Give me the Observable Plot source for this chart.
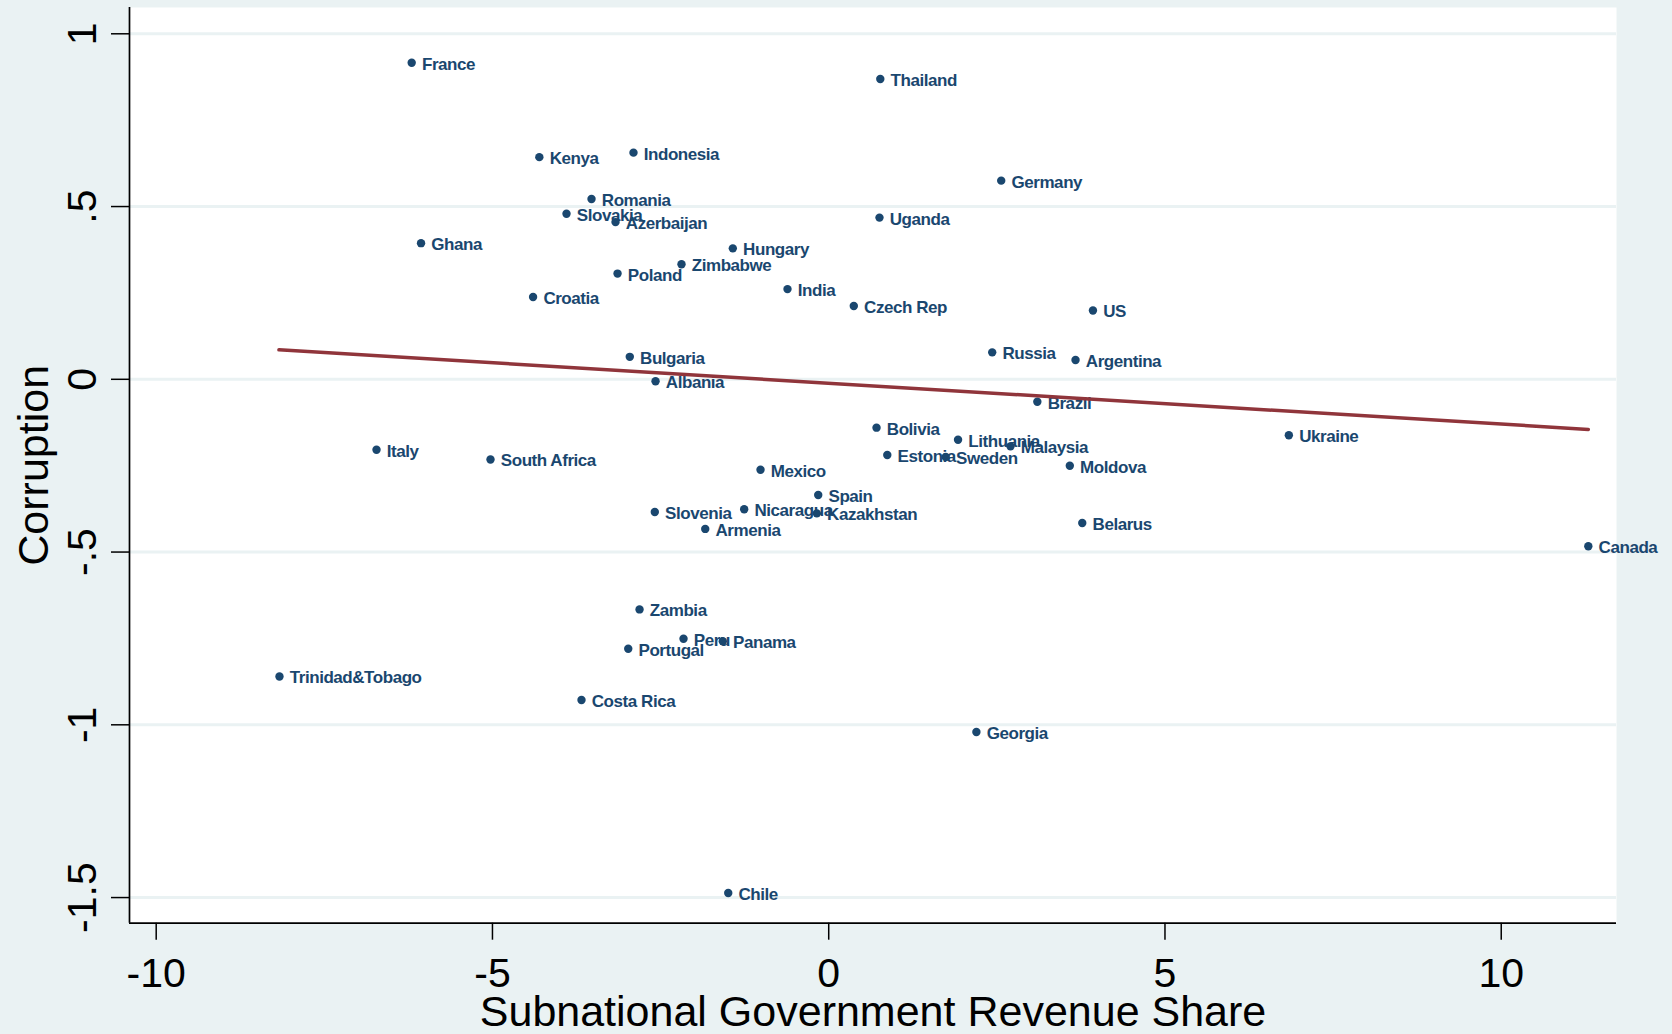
<!DOCTYPE html>
<html>
<head>
<meta charset="utf-8">
<script src="https://cdn.jsdelivr.net/npm/d3@7"></script>
<script src="https://cdn.jsdelivr.net/npm/@observablehq/plot@0.6"></script>
<style>
  html, body { margin: 0; padding: 0; background: #EAF2F3; overflow: hidden; }
  #chart svg { display: block; }
</style>
</head>
<body>
<div id="chart"></div>
<script>
// ---- Data ----
const countries = ["France","Thailand","Kenya","Indonesia","Germany","Romania","Slovakia","Azerbaijan","Uganda","Ghana",
  "Hungary","Zimbabwe","Poland","India","Croatia","Czech Rep","US","Russia","Argentina","Bulgaria",
  "Albania","Brazil","Bolivia","Ukraine","Lithuania","Malaysia","Estonia","Sweden","Moldova","Mexico",
  "Italy","South Africa","Spain","Nicaragua","Kazakhstan","Slovenia","Armenia","Belarus","Canada","Zambia",
  "Peru","Panama","Portugal","Trinidad&Tobago","Costa Rica","Georgia","Chile"];
const revShare = [-6.201, 0.767, -4.303, -2.903, 2.565, -3.527, -3.899, -3.170, 0.755, -6.062,
  -1.426, -2.189, -3.140, -0.613, -4.396, 0.373, 3.929, 2.431, 3.670, -2.958,
  -2.575, 3.102, 0.711, 6.842, 1.923, 2.703, 0.871, 1.740, 3.585, -1.014,
  -6.724, -5.029, -0.156, -1.257, -0.177, -2.586, -1.836, 3.770, 11.295, -2.813,
  -2.159, -1.575, -2.981, -8.167, -3.676, 2.196, -1.494];
const corruption = [0.916, 0.869, 0.643, 0.656, 0.575, 0.522, 0.479, 0.455, 0.468, 0.394,
  0.379, 0.333, 0.306, 0.261, 0.238, 0.212, 0.199, 0.078, 0.056, 0.065,
  -0.0055, -0.065, -0.140, -0.162, -0.175, -0.194, -0.219, -0.225, -0.250, -0.262,
  -0.204, -0.232, -0.335, -0.376, -0.388, -0.384, -0.433, -0.416, -0.483, -0.666,
  -0.751, -0.758, -0.780, -0.860, -0.928, -1.021, -1.487];
// fitted (linear fit) line endpoints as shown in the picture
const fitX = [-8.175, 11.295];
const fitY = [0.0854, -0.145];
// axis ticks
const xTicks = [-10, -5, 0, 5, 10];
const xTickLabels = ["-10", "-5", "0", "5", "10"];
const yTicks = [1, 0.5, 0, -0.5, -1, -1.5];
const yTickLabels = ["1", ".5", "0", "-.5", "-1", "-1.5"];
const xTitle = "Subnational Government Revenue Share";
const yTitle = "Corruption";

// ---- Build ----
const points = countries.map((c, i) => ({country: c, x: revShare[i], y: corruption[i]}));
const fit = fitX.map((x, i) => ({x, y: fitY[i]}));

const navy = "#1A476F";
const maroon = "#90353B";
const bg = "#EAF2F3";
const xDomain = [-10.397, 11.714];
const yDomain = [-1.5742, 1.0761];
const font = "'Liberation Sans', Arial, Helvetica, sans-serif";

const chart = Plot.plot({
  width: 1672,
  height: 1034,
  marginLeft: 129,
  marginRight: 56,
  marginTop: 7,
  marginBottom: 111.3,
  x: {domain: xDomain},
  y: {domain: yDomain},
  style: {background: bg, fontFamily: font, overflow: "visible"},
  marks: [
    Plot.frame({fill: "white", stroke: "none"}),
    Plot.ruleY(yTicks, {stroke: bg, strokeWidth: 3}),
    Plot.axisX(xTicks, {anchor: "bottom", tickSize: 17, fill: "none", label: null, stroke: "black", strokeWidth: 1.5}),
    Plot.axisY(yTicks, {anchor: "left", tickSize: 18, fill: "none", label: null, stroke: "black", strokeWidth: 1.5}),
    Plot.ruleX([xDomain[0]], {stroke: "black", strokeWidth: 1.7}),
    Plot.ruleY([yDomain[0]], {stroke: "black", strokeWidth: 1.7}),
    Plot.text(xTicks, {x: d => d, text: (d, i) => xTickLabels[i], frameAnchor: "bottom", dy: 63.3, lineAnchor: "bottom", fontSize: 41, fill: "black"}),
    Plot.text(yTicks, {y: d => d, text: (d, i) => yTickLabels[i], frameAnchor: "left", dx: -34, rotate: -90, lineAnchor: "bottom", textAnchor: "middle", fontSize: 41, fill: "black"}),
    Plot.text([xTitle], {frameAnchor: "bottom", dy: 103, lineAnchor: "bottom", fontSize: 43, fill: "black"}),
    Plot.text([yTitle], {frameAnchor: "left", dx: -82, rotate: -90, lineAnchor: "bottom", textAnchor: "middle", fontSize: 43, fill: "black"}),
    Plot.dot(points, {x: "x", y: "y", r: 4.2, fill: navy, stroke: null}),
    Plot.text(points, {x: "x", y: "y", text: "country", textAnchor: "start", dx: 10.3, dy: 1.5, fill: navy, fontSize: 17, fontWeight: "bold"}),
    Plot.line(fit, {x: "x", y: "y", stroke: maroon, strokeWidth: 3.5})
  ]
});
// condensed spacing for the point labels, as in the reference
chart.querySelectorAll('g[aria-label="text"]').forEach(g => {
  if (g.getAttribute("font-weight") === "bold") g.style.letterSpacing = "-0.45px";
});
document.getElementById("chart").appendChild(chart);
</script>
</body>
</html>
